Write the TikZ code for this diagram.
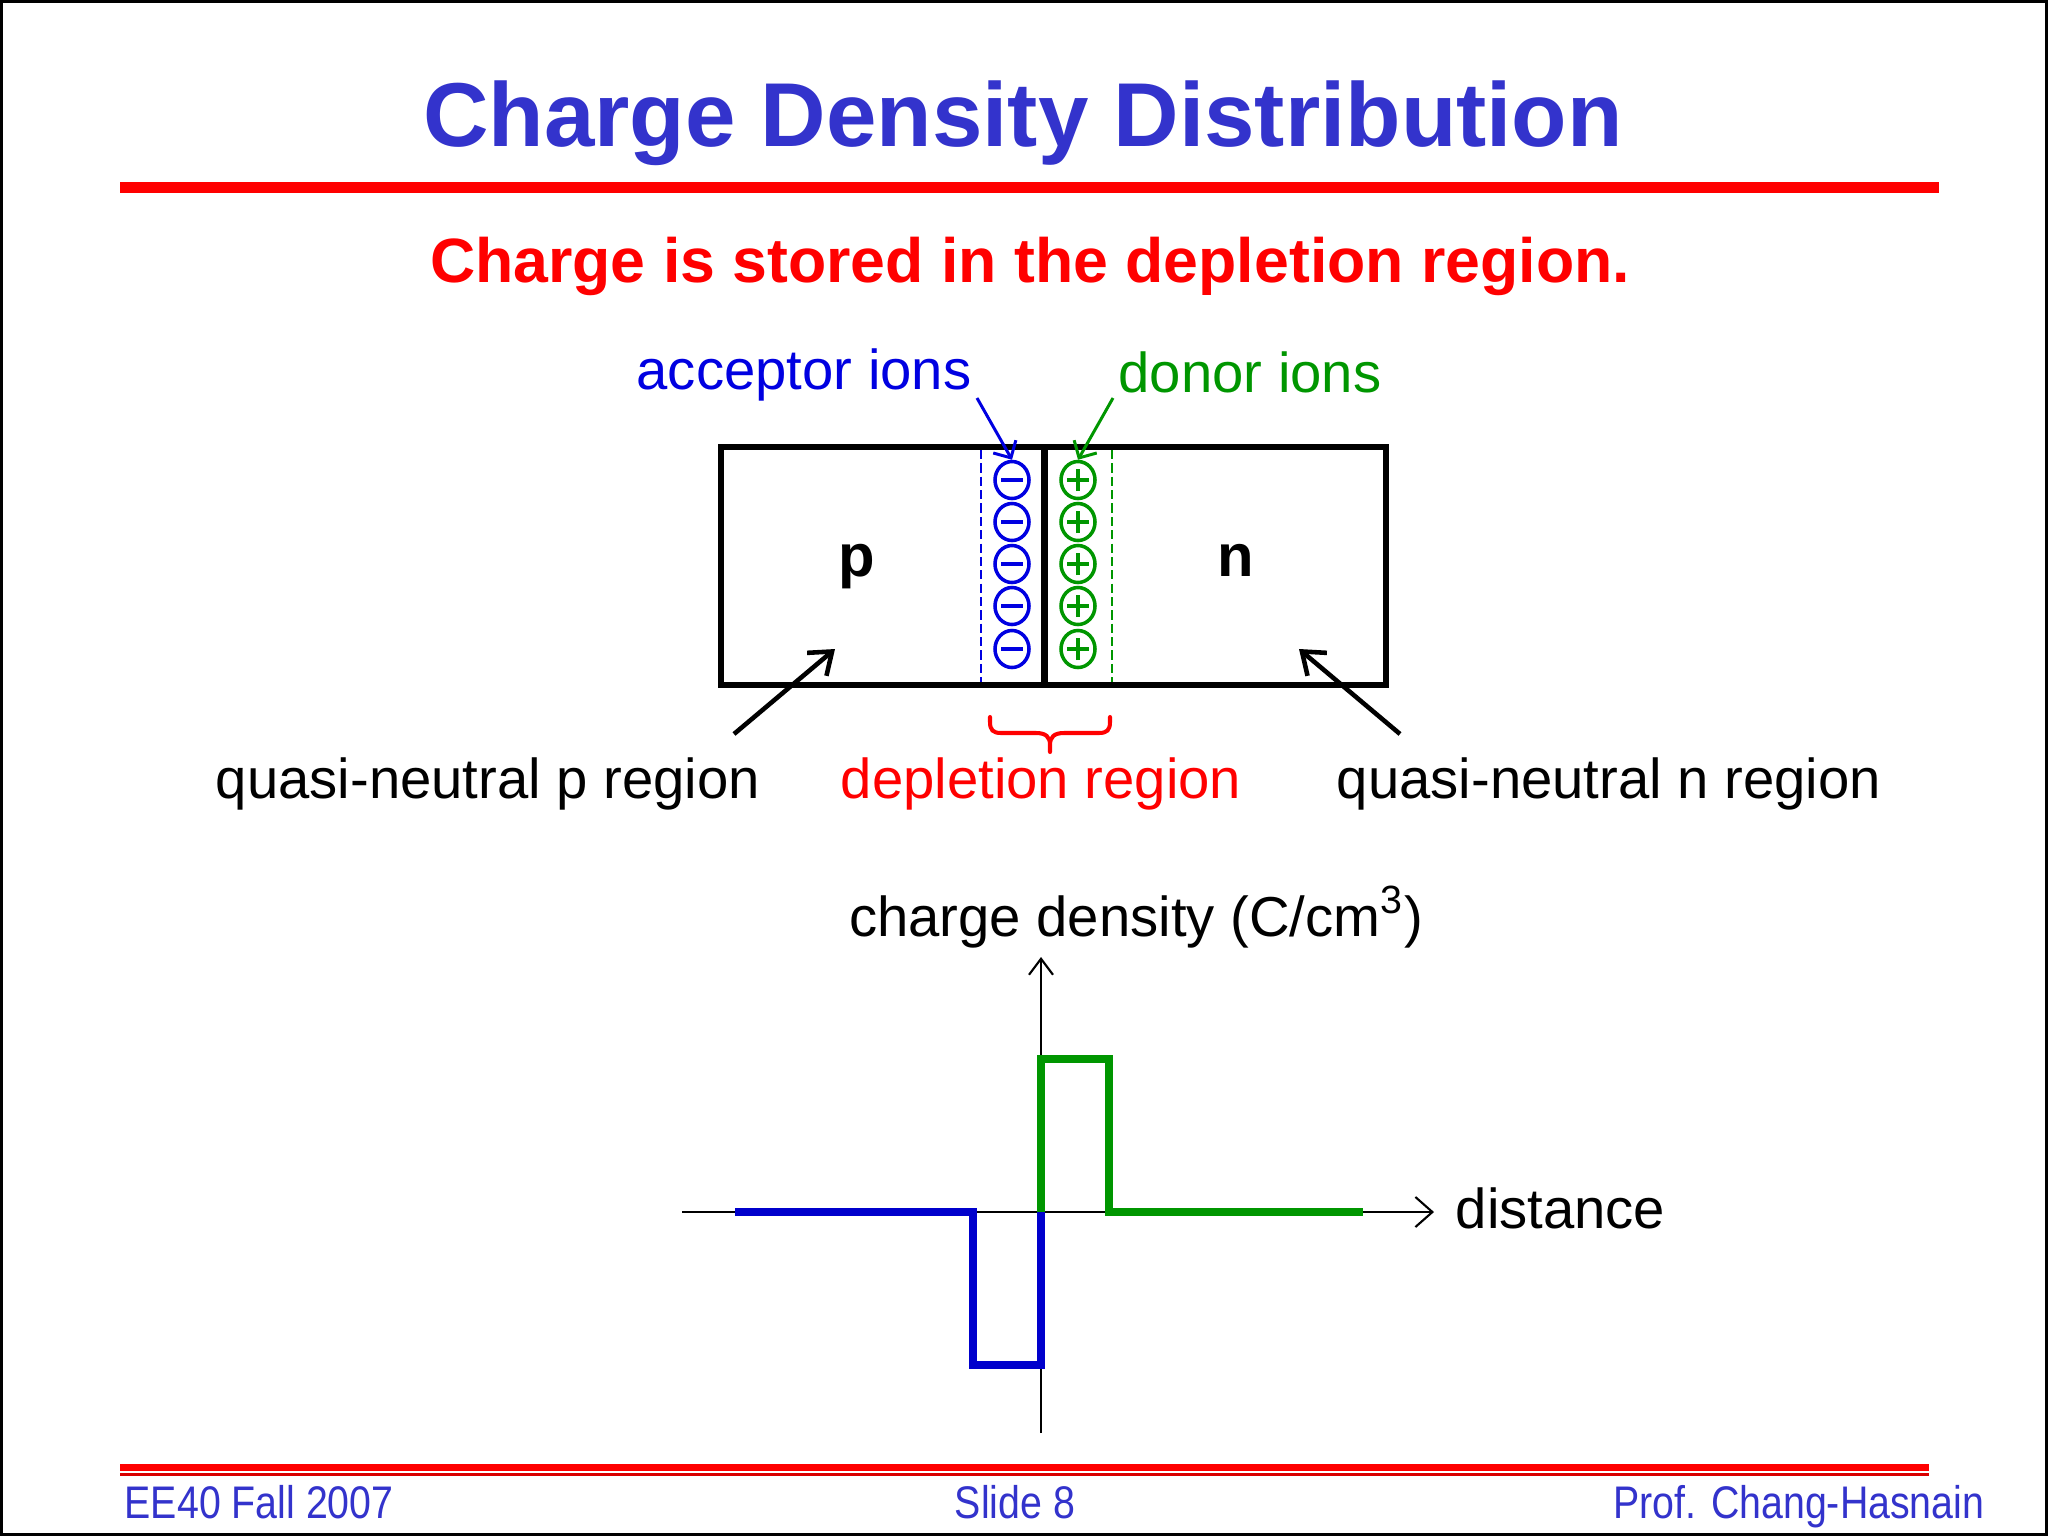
\documentclass[tikz,border=0pt]{standalone}
\usepackage{fontspec}
\setmainfont{Liberation Sans}
\usetikzlibrary{arrows.meta,decorations.pathreplacing,shapes.geometric}
\definecolor{titleblue}{RGB}{51,51,204}
\definecolor{accblue}{RGB}{0,0,225}
\definecolor{dongreen}{RGB}{0,150,0}
\definecolor{plotblue}{RGB}{0,0,204}
\definecolor{slidered}{RGB}{255,0,0}
\begin{document}
\begin{tikzpicture}[x=0.01cm,y=-0.01cm,
  lbl/.style={inner sep=0pt, font=\fontsize{16}{19}\selectfont},
  foot/.style={inner sep=0pt, text=titleblue, font=\fontsize{13}{15}\selectfont},
  ion/.style={ellipse, line width=1pt, minimum width=0.34cm, minimum height=0.37cm, inner sep=0pt},
  acc/.style={ion, draw=accblue, path picture={\draw[accblue,line width=1pt] ([xshift=-0.11cm]path picture bounding box.center) -- ([xshift=0.11cm]path picture bounding box.center);}},
  don/.style={ion, draw=dongreen, path picture={\draw[dongreen,line width=1pt] ([xshift=-0.11cm]path picture bounding box.center) -- ([xshift=0.11cm]path picture bounding box.center); \draw[dongreen,line width=1pt] ([yshift=-0.11cm]path picture bounding box.center) -- ([yshift=0.11cm]path picture bounding box.center);}},
  bigarrow/.style={line width=1.3pt, -{Straight Barb[length=0.2cm,width=0.3cm,line width=1.3pt]}},
  ptr/.style={line width=0.85pt, -{Straight Barb[length=0.13cm,width=0.26cm,line width=0.85pt]}},
  haxis/.style={line width=0.6pt, -{Straight Barb[length=0.17cm,width=0.3cm,line width=0.6pt]}},
  vaxis/.style={line width=0.6pt, -{Straight Barb[length=0.16cm,width=0.24cm,line width=0.6pt]}},
  curve/.style={line width=2.3pt, line join=miter},
  boxline/.style={line width=1.8pt}
]
\useasboundingbox (0,0) rectangle (2048,1536);
\fill[white] (0,0) rectangle (2048,1536);
\draw[line width=0.85pt] (1.5,1.5) rectangle (2046.5,1534.5);

% title
\node[inner sep=0pt, anchor=base, text=titleblue, font=\bfseries\fontsize{25.8}{30}\selectfont] (title) at (1023,146) {Charge Density Distribution};
\fill[slidered] (120,182) rectangle (1939,193);
\node[inner sep=0pt, anchor=base, text=slidered, font=\bfseries\fontsize{17.8}{21}\selectfont] (sub) at (1030,282) {Charge is stored in the depletion region.};

% pn junction box
\node[draw, boxline, minimum width=6.65cm, minimum height=2.38cm, inner sep=0pt] (box) at (1053.5,566) {};
\coordinate (jt) at (1044.5,447);
\coordinate (jb) at (1044.5,685);
\draw[boxline] (jt) -- (jb);
\coordinate (pdt) at (981,450);
\coordinate (pdb) at (981,682);
\coordinate (ndt) at (1112,450);
\coordinate (ndb) at (1112,682);
\draw[accblue, line width=0.5pt, dash pattern=on 2.6pt off 1.2pt] (pdt) -- (pdb);
\draw[dongreen, line width=0.5pt, dash pattern=on 2.6pt off 1.2pt] (ndt) -- (ndb);

\foreach \i/\y in {1/480,2/522,3/564,4/606,5/649}{
  \node[acc] (a\i) at (1012,\y) {};
  \node[don] (d\i) at (1078,\y) {};
}

\node[anchor=base, inner sep=0pt, font=\bfseries\fontsize{17}{20}\selectfont] (p) at (857,576) {p};
\node[anchor=base, inner sep=0pt, font=\bfseries\fontsize{17}{20}\selectfont] (n) at (1236,576) {n};

\node[lbl, anchor=base west, text=accblue] (accl) at (636,389) {acceptor ions};
\node[lbl, anchor=base west, text=dongreen] (donl) at (1118,392) {donor ions};
\coordinate (accs) at (977,398);
\coordinate (dons) at (1113,398);
\draw[ptr, accblue] (accs) -- (a1.north);
\draw[ptr, dongreen] (dons) -- (d1.north);

% region labels
\node[lbl, anchor=base] (qp) at (488,798) {quasi-neutral p region};
\node[lbl, anchor=base, text=slidered] (dep) at (1041,798) {depletion region};
\node[lbl, anchor=base] (qn) at (1609,798) {quasi-neutral n region};
\coordinate (qps) at (734,734);
\coordinate (qpe) at (835,649);
\coordinate (qns) at (1400,734);
\coordinate (qne) at (1299,649);
\draw[bigarrow] (qps) -- (qpe);
\draw[bigarrow] (qns) -- (qne);
\coordinate (brL) at (990,717);
\coordinate (brR) at (1110,717);
\coordinate (brT) at (1050,752);
\draw[slidered, line width=1.15pt, line cap=round, line join=round]
  (brL) -- (990,722) .. controls (990,730) and (993,733) .. (1001,733) -- (1036,733)
  .. controls (1046,733) and (1050,737) .. (1050,745) -- (brT) -- (1050,745)
  .. controls (1050,737) and (1054,733) .. (1064,733) -- (1099,733)
  .. controls (1107,733) and (1110,730) .. (1110,722) -- (brR);

% graph
\coordinate (xa0) at (682,1212);
\coordinate (xa1) at (1434,1212);
\coordinate (ya0) at (1041,1433);
\coordinate (ya1) at (1041,957);
\draw[haxis] (xa0) -- (xa1);
\draw[vaxis] (ya0) -- (ya1);
\draw[curve, plotblue] (735,1212) -- (973,1212) -- (973,1365) -- (1041,1365) -- (1041,1212);
\draw[curve, dongreen] (1041,1212) -- (1041,1059) -- (1109,1059) -- (1109,1212) -- (1363,1212);
\node[lbl, anchor=base] (cd) at (1136,936) {charge density (C/cm\textsuperscript{3})};
\node[lbl, anchor=base west] (dist) at (1455,1228) {distance};

% footer
\fill[slidered] (120,1464) rectangle (1929,1471);
\fill[slidered!85!black] (120,1473) rectangle (1929,1476);
\node[foot, anchor=base west] (f1) at (124,1518) {\scalebox{0.86}[1]{EE40 Fall 2007}};
\node[foot, anchor=base] (f2) at (1015,1518) {\scalebox{0.86}[1]{Slide 8}};
\node[foot, anchor=base east] (f3) at (1985,1518) {\scalebox{0.86}[1]{Prof. Chang-Hasnain}};
\end{tikzpicture}
\end{document}
